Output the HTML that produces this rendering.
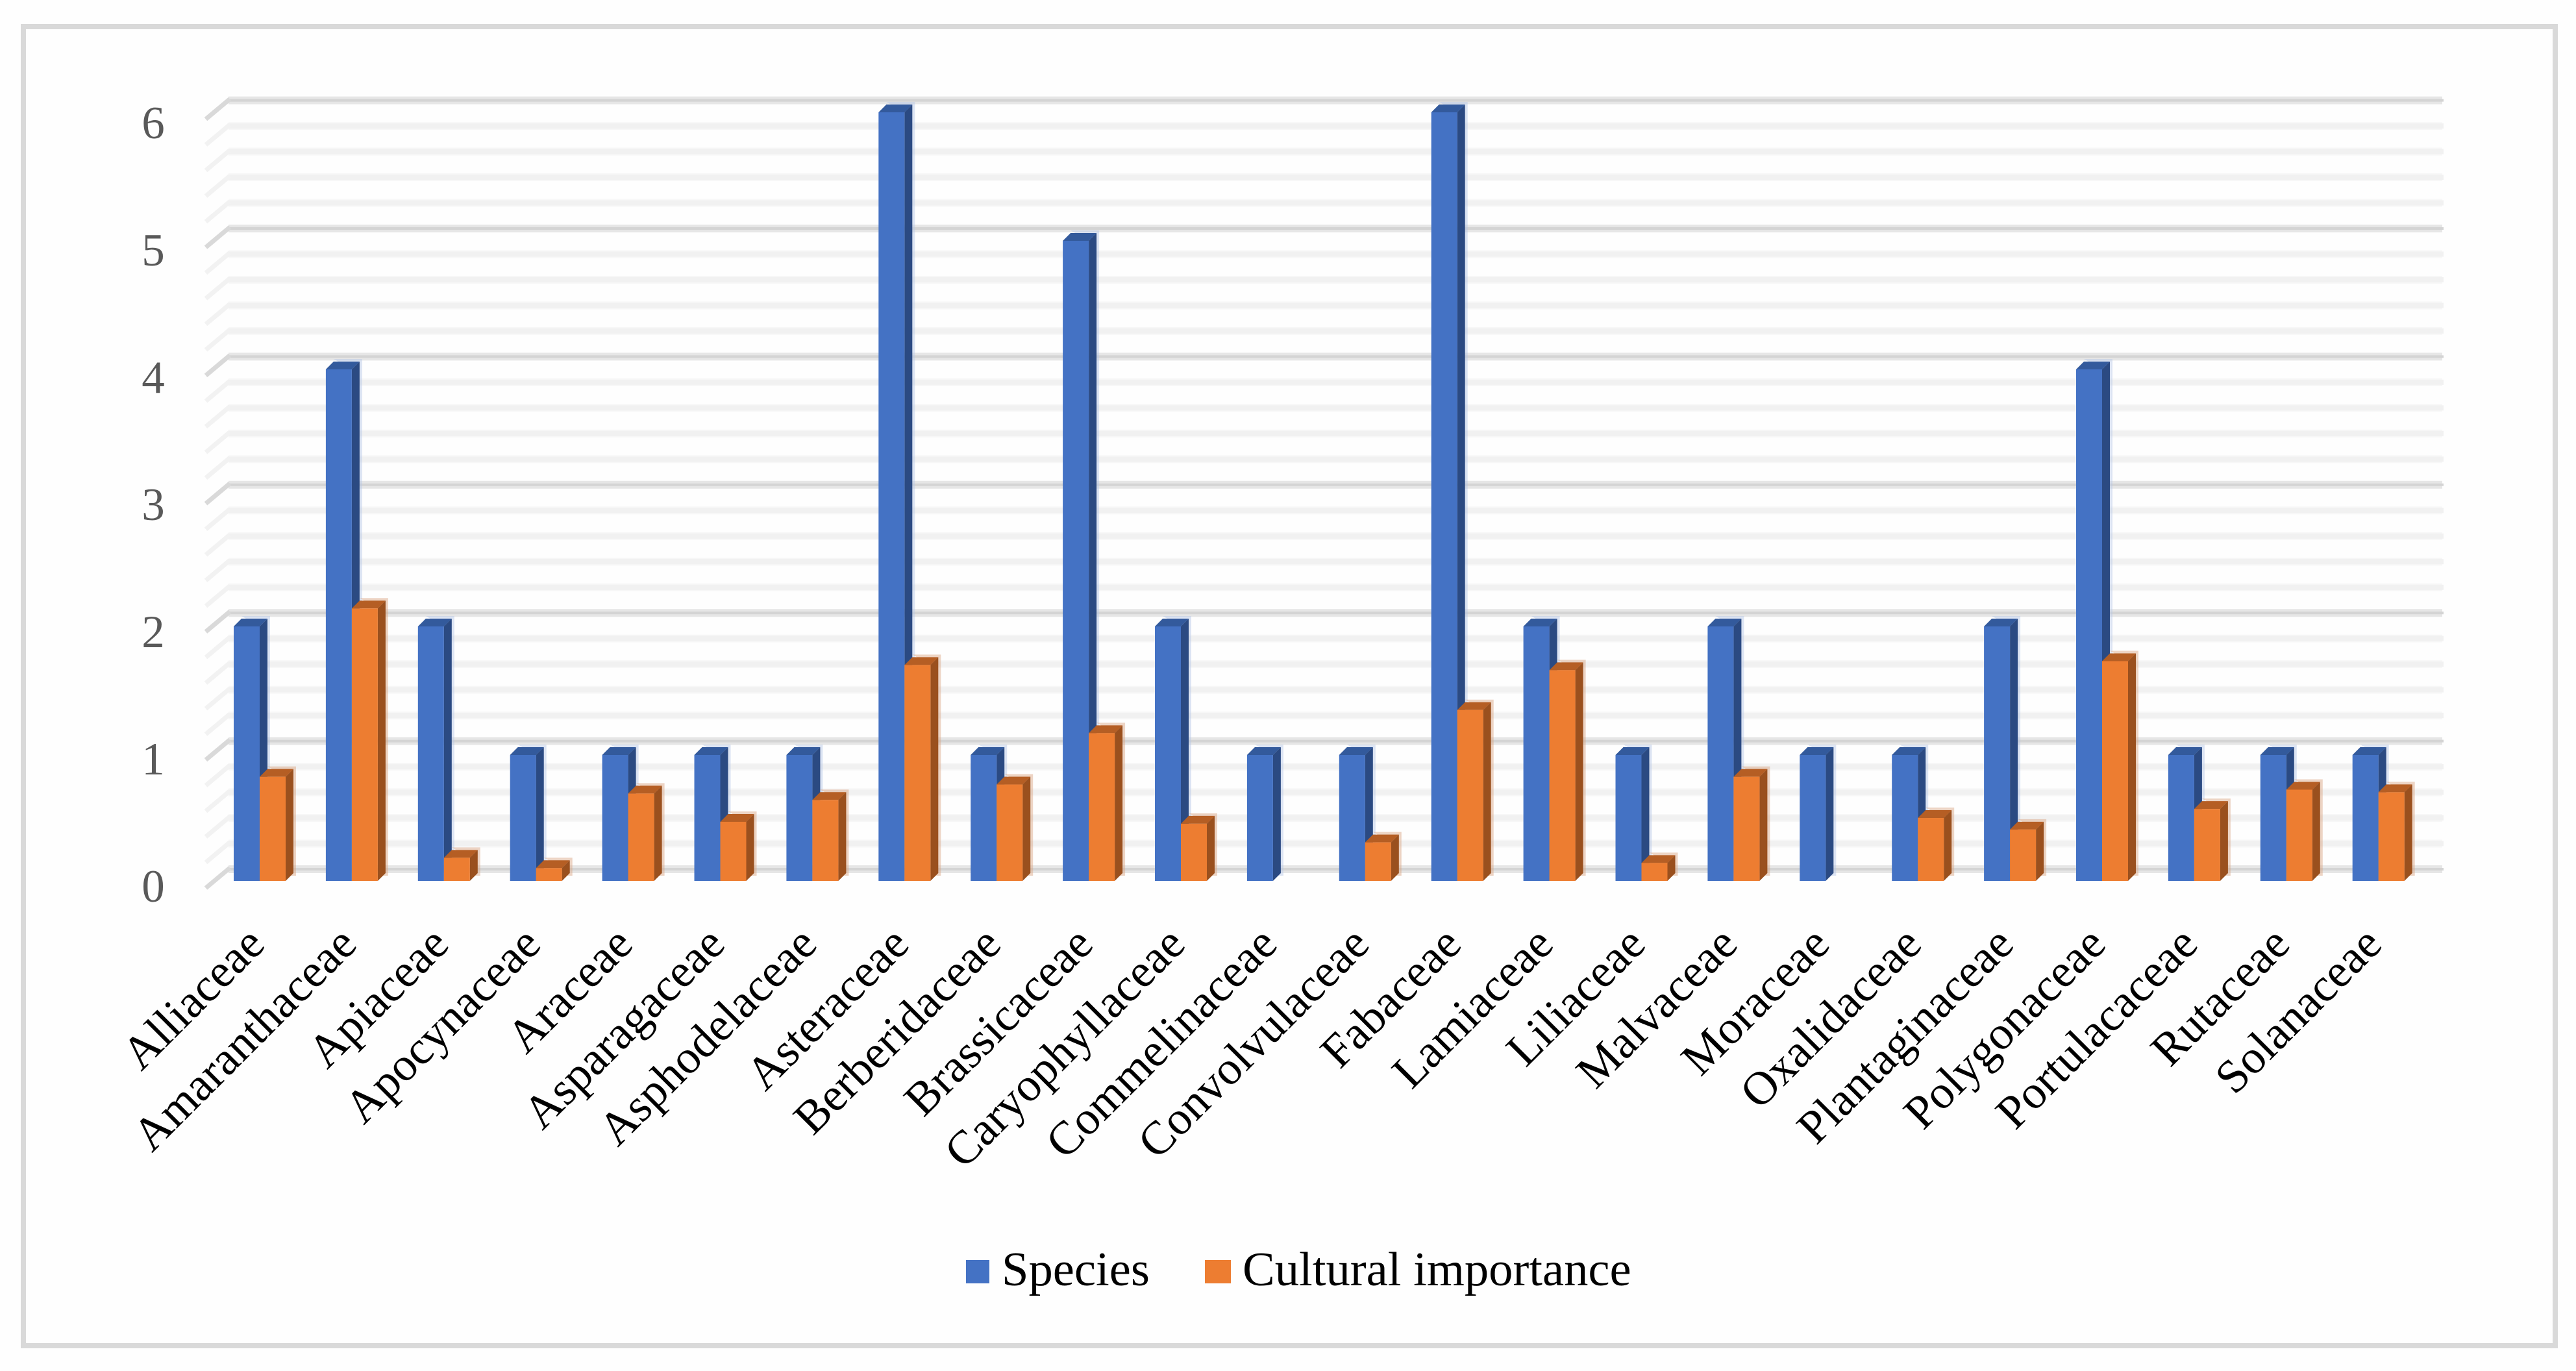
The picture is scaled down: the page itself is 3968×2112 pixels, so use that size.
<!DOCTYPE html>
<html lang="en">
<head>
<meta charset="utf-8">
<title>Species and cultural importance by plant family</title>
<style>
html,body{margin:0;padding:0;background:#fefefe;}
svg{display:block;}
text{font-family:"Liberation Serif",serif;}
</style>
</head>
<body>
<svg id="chart" xmlns="http://www.w3.org/2000/svg" width="3968" height="2112" viewBox="0 0 3968 2112">
  <rect x="0" y="0" width="3968" height="2112" fill="#fefefe"/>
  <rect x="36" y="41" width="3900" height="2032" fill="none" stroke="#d9d9d9" stroke-width="8"/>
  <g id="grid"></g>
  <g id="yaxis"></g>
  <g id="bars"></g>
  <g id="xaxis"></g>
  <g>
    <g>
      <rect x="1488" y="1941" width="36" height="36" fill="#4472c4"/>
      <text x="1543" y="1980" font-size="74.6" fill="#000">Species</text>
    </g>
    <g>
      <rect x="1856" y="1941" width="40" height="36" fill="#ed7d31"/>
      <text x="1914" y="1980" font-size="74.6" fill="#000">Cultural importance</text>
    </g>
  </g>
</svg>
<script>
const categories = ["Alliaceae","Amaranthaceae","Apiaceae","Apocynaceae","Araceae","Asparagaceae","Asphodelaceae","Asteraceae","Berberidaceae","Brassicaceae","Caryophyllaceae","Commelinaceae","Convolvulaceae","Fabaceae","Lamiaceae","Liliaceae","Malvaceae","Moraceae","Oxalidaceae","Plantaginaceae","Polygonaceae","Portulacaceae","Rutaceae","Solanaceae"];
const species = [2,4,2,1,1,1,1,6,1,5,2,1,1,6,2,1,2,1,1,2,4,1,1,1];
const culturalImportance = [0.83,2.14,0.20,0.12,0.70,0.48,0.65,1.70,0.77,1.17,0.465,0,0.32,1.35,1.66,0.16,0.83,0,0.51,0.42,1.73,0.58,0.73,0.71];
const yTicks = [0,1,2,3,4,5,6];
const minorPerMajor = 5;

const NS = "http://www.w3.org/2000/svg";
const gridG = document.getElementById("grid");
const yaxisG = document.getElementById("yaxis");
const barsG = document.getElementById("bars");
const xaxisG = document.getElementById("xaxis");

const wallY = v => 1339 - 197.4 * v;
const barTopY = v => 1361 - 198 * v;
const tickBaseY = v => 1389 - 196 * v;
const groupX = i => 360 + 141.9 * i;
const labelX = i => 411 + 141.8 * i;
const BASE_Y = 1357;
const BAR_W = 40;
const DX = 12;
const DY = 12;

function make(tag, attrs, parent) {
  const node = document.createElementNS(NS, tag);
  for (const k in attrs) node.setAttribute(k, attrs[k]);
  parent.appendChild(node);
  return node;
}

function drawGrid() {
  const maxV = yTicks[yTicks.length - 1];
  const steps = maxV * minorPerMajor;
  for (let s = 0; s <= steps; s++) {
    const v = s / minorPerMajor;
    const major = s % minorPerMajor === 0;
    const y = wallY(v);
    const g = make("g", {}, gridG);
    
    
    make("path", {
      d: "M352 " + y + "H3762",
      stroke: major ? "#e6e6e6" : "#f7f7f7",
      "stroke-width": 12,
      fill: "none"
    }, g);
    make("path", {
      d: "M352 " + y + "H3764",
      stroke: major ? "#d4d4d4" : "#f1f1f1",
      "stroke-width": major ? 4 : 8,
      fill: "none"
    }, g);
    make("path", {
      d: "M354 " + (y - 2) + "L317 " + (y + 29),
      stroke: major ? "#d9d9d9" : "#f2f2f2",
      "stroke-width": 7,
      fill: "none"
    }, g);
  }
}

function drawYAxis() {
  yTicks.forEach(t => {
    const label = make("text", {
      x: 236,
      y: tickBaseY(t),
      "font-size": 71,
      "text-anchor": "middle",
      fill: "#595959"
    }, yaxisG);
    
    
    label.textContent = String(t);
  });
}

function drawBar(x, value, front, side, top, fringe, name) {
  if (value <= 0) return;
  const yT = barTopY(value);
  const g = make("g", {}, barsG);
  
  
  make("path", {
    d: "M" + (x + DX) + " " + (yT - DY - 4) + "H" + (x + BAR_W + DX + 4) + "V" + (BASE_Y - DY + 4) + "H" + (x + BAR_W) + "V" + yT + "Z",
    fill: fringe,
    "fill-opacity": 0.45
  }, g);
  make("polygon", {
    points: [x, yT, x + BAR_W, yT, x + BAR_W + DX, yT - DY, x + DX, yT - DY].join(" "),
    fill: top
  }, g);
  make("polygon", {
    points: [x + BAR_W, yT, x + BAR_W, BASE_Y, x + BAR_W + DX, BASE_Y - DY, x + BAR_W + DX, yT - DY].join(" "),
    fill: side
  }, g);
  make("rect", {
    x: x,
    y: yT,
    width: BAR_W,
    height: BASE_Y - yT,
    fill: front
  }, g);
}

function drawBars() {
  categories.forEach((c, i) => {
    const x = groupX(i);
    drawBar(x, species[i], "#4472c4", "#2b4a82", "#335a9c", "#b4c6e7", "bar-species-" + c.toLowerCase());
    drawBar(x + BAR_W, culturalImportance[i], "#ed7d31", "#9a501e", "#b55e24", "#d9a27e", "bar-cultural-" + c.toLowerCase());
  });
}

function drawXAxis() {
  categories.forEach((c, i) => {
    const x = labelX(i);
    const label = make("text", {
      x: x,
      y: 1458,
      "font-size": 72.5,
      "text-anchor": "end",
      fill: "#000",
      transform: "rotate(-45 " + x + " 1458)"
    }, xaxisG);
    
    
    label.textContent = c;
  });
}

drawGrid();
drawYAxis();
drawBars();
drawXAxis();
</script>
</body>
</html>
